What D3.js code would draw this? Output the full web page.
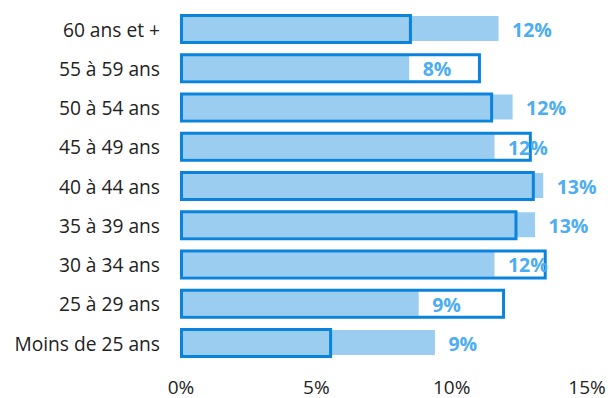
<!DOCTYPE html>
<html>
<head>
<meta charset="utf-8">
<script src="https://cdn.jsdelivr.net/npm/d3@7"></script>
<style>
  body { margin: 0; background: #fff; }
  svg { display: block; }
  svg text { font-family: "Open Sans", sans-serif; }
</style>
</head>
<body>
<svg id="chart" width="608" height="398"></svg>
<script>
// tranches d'âge, de haut en bas
var categories = ["60 ans et +", "55 à 59 ans", "50 à 54 ans", "45 à 49 ans", "40 à 44 ans",
                  "35 à 39 ans", "30 à 34 ans", "25 à 29 ans", "Moins de 25 ans"];
// série pleine (bleu clair), avec étiquettes
var valeursFond = [11.75, 8.45, 12.27, 11.6, 13.4, 13.1, 11.6, 8.8, 9.4];
// série en contour
var valeursContour = [8.55, 11.1, 11.55, 12.98, 13.09, 12.45, 13.53, 11.99, 5.6];
var ticks = [0, 5, 10, 15];

var svg = d3.select("#chart");

var x = d3.scaleLinear().domain([0, 15]).range([180.5, 586.5]);
var y = d3.scaleBand().domain(categories).range([16, 355]).paddingInner(0.363).paddingOuter(0);
var bw = y.bandwidth();

// barres bleu clair
svg.append("g").selectAll("rect")
    .data(valeursFond)
    .enter().append("rect")
    .attr("x", x(0))
    .attr("y", (d, i) => y(categories[i]))
    .attr("width", d => x(d) - x(0))
    .attr("height", bw)
    .style("fill", "#9bcdf1");

// barres en contour
svg.append("g").selectAll("rect")
    .data(valeursContour)
    .enter().append("rect")
    .attr("x", x(0) + 1)
    .attr("y", (d, i) => y(categories[i]) - 0.5)
    .attr("width", d => x(d) - x(0) - 2.5)
    .attr("height", bw + 2)
    .style("fill", "none")
    .style("stroke", "#0a83dd")
    .style("stroke-width", 3);

// étiquettes des valeurs
svg.append("g").selectAll("text")
    .data(valeursFond)
    .enter().append("text")
    .attr("x", d => x(d) + 13.5)
    .attr("y", (d, i) => y(categories[i]) + bw / 2 + 1.5)
    .attr("dy", "0.35em")
    .style("font-size", "19.5px")
    .style("font-weight", "bold")
    .style("fill", "#4cadf2")
    .text(d => Math.round(d) + "%");

// axe des catégories
var yAxis = g => g
    .attr("transform", "translate(173,2)")
    .call(d3.axisLeft(y).tickSize(0).tickPadding(13))
    .call(g => g.select(".domain").remove())
    .call(g => g.selectAll("text").style("font-family", "'Open Sans', sans-serif")
        .style("font-size", "19.2px").style("fill", "#222"));
svg.append("g").call(yAxis);

// axe des pourcentages
var xAxis = g => g
    .attr("transform", "translate(0,380)")
    .call(d3.axisBottom(x).tickValues(ticks).tickFormat(d => d + "%").tickSize(0).tickPadding(0))
    .call(g => g.select(".domain").remove())
    .call(g => g.selectAll("text").style("font-family", "'Open Sans', sans-serif")
        .style("font-size", "19px").style("fill", "#222"));
svg.append("g").call(xAxis);
</script>
</body>
</html>
